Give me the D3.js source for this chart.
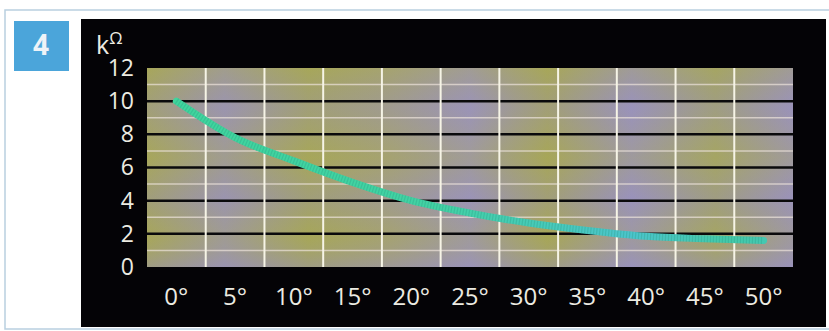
<!DOCTYPE html>
<html lang="en">
<head>
    <meta charset="UTF-8">
    <title>Resistance vs temperature</title>
    <script src="https://d3js.org/d3.v7.min.js"></script>
    <style>
        body {margin: 0; background: #fff;}
        text {
            font-family: "Open Sans", "DejaVu Sans", sans-serif;
            fill: #ecebe2;
        }
    </style>
</head>
<body>
<script>
    const width = 829;
    const height = 331;

    // chart data
    const angles = ["0°", "5°", "10°", "15°", "20°", "25°", "30°", "35°", "40°", "45°", "50°"];
    const resistance = [10, 7.8, 6.4, 5.1, 4.0, 3.25, 2.65, 2.2, 1.85, 1.7, 1.6];
    const yTicks = [0, 2, 4, 6, 8, 10, 12];
    const darkLines = [2, 4, 6, 8, 10];
    const faintLines = [1, 3, 5, 7, 9, 11];

    const plot = {left: 147, right: 793, top: 68, bottom: 267};

    const svg = d3.select("body").append("svg")
            .attr("width", width).attr("height", height);

    const defs = svg.append("defs");

    // mottled olive / lavender background
    const bg = defs.append("linearGradient").attr("id", "bgx")
            .attr("x1", 0).attr("x2", 1).attr("y1", 0).attr("y2", 0);
    [[0, "#a6a55a"], [0.12, "#9c96a6"], [0.25, "#a5a558"], [0.38, "#a39f7c"],
     [0.5, "#9c95b2"], [0.62, "#a6a556"], [0.75, "#9a93b8"], [0.88, "#a3a366"], [1, "#9b93b6"]]
        .forEach(s => bg.append("stop").attr("offset", s[0]).attr("stop-color", s[1]));

    const bgy = defs.append("linearGradient").attr("id", "bgy")
            .attr("x1", 0).attr("x2", 0).attr("y1", 0).attr("y2", 1);
    [[0, "#aaaa5c", 0.35], [0.2, "#9890c2", 0.3], [0.45, "#aaaa5c", 0.3],
     [0.65, "#9890c2", 0.3], [0.85, "#aaaa5c", 0.25], [1, "#9890c2", 0.4]]
        .forEach(s => bgy.append("stop").attr("offset", s[0])
            .attr("stop-color", s[1]).attr("stop-opacity", s[2]));

    const lineGrad = defs.append("linearGradient").attr("id", "curve")
            .attr("gradientUnits", "userSpaceOnUse")
            .attr("x1", plot.left).attr("x2", plot.right).attr("y1", 0).attr("y2", 0);
    [[0, "#3fd69c"], [0.45, "#42d2a4"], [0.75, "#4cc4cc"], [0.9, "#44caa8"], [1, "#46c6b8"]]
        .forEach(s => lineGrad.append("stop").attr("offset", s[0]).attr("stop-color", s[1]));

    // page frame
    svg.append("rect")
            .attr("x", 5).attr("y", 10).attr("width", 840).attr("height", 319)
            .style("fill", "none").style("stroke", "#b9cfe0").style("stroke-width", 1.5);

    // black panel
    svg.append("rect")
            .attr("x", 81).attr("y", 19).attr("width", 745).attr("height", 308)
            .style("fill", "#040306");

    // figure number badge
    svg.append("rect")
            .attr("x", 14).attr("y", 21).attr("width", 55).attr("height", 50)
            .style("fill", "#4ba5da");
    svg.append("text")
            .attr("x", 41).attr("y", 55)
            .attr("text-anchor", "middle")
            .style("font-size", "28px").style("font-weight", "bold")
            .style("fill", "#eef3f8")
            .text("4");

    const x = d3.scaleBand()
            .domain(angles)
            .range([plot.left, plot.right]);

    const y = d3.scaleLinear()
            .domain([0, 12])
            .range([plot.bottom, plot.top]);

    // plot background
    svg.append("rect")
            .attr("x", plot.left).attr("y", plot.top)
            .attr("width", plot.right - plot.left).attr("height", plot.bottom - plot.top)
            .style("fill", "url(#bgx)");
    svg.append("rect")
            .attr("x", plot.left).attr("y", plot.top)
            .attr("width", plot.right - plot.left).attr("height", plot.bottom - plot.top)
            .style("fill", "url(#bgy)");

    // faint light lines at odd values
    svg.selectAll("line.faint")
            .data(faintLines)
            .enter()
            .append("line")
            .attr("class", "faint")
            .attr("x1", plot.left).attr("x2", plot.right)
            .attr("y1", d => y(d)).attr("y2", d => y(d))
            .style("stroke", "#ece2dc")
            .style("stroke-opacity", 0.7)
            .style("stroke-width", 1.5);

    // black gridlines
    svg.selectAll("line.dark")
            .data(darkLines)
            .enter()
            .append("line")
            .attr("class", "dark")
            .attr("x1", plot.left).attr("x2", plot.right)
            .attr("y1", d => y(d)).attr("y2", d => y(d))
            .style("stroke", "#0a0a0c")
            .style("stroke-width", 2.5);

    // white vertical lines between columns
    svg.selectAll("line.vert")
            .data(angles.slice(1))
            .enter()
            .append("line")
            .attr("class", "vert")
            .attr("x1", d => x(d)).attr("x2", d => x(d))
            .attr("y1", plot.top).attr("y2", plot.bottom)
            .style("stroke", "#f6f4e6")
            .style("stroke-width", 2);

    // resistance curve
    const line = d3.line()
            .x((d, i) => x(angles[i]) + x.bandwidth() / 2)
            .y(d => y(d))
            .curve(d3.curveMonotoneX);

    svg.append("path")
            .datum(resistance)
            .attr("d", line)
            .style("fill", "none")
            .style("stroke", "url(#curve)")
            .style("stroke-width", 7)
            .style("stroke-linecap", "round");

    // halftone texture on the curve
    svg.append("path")
            .datum(resistance)
            .attr("d", line)
            .style("fill", "none")
            .style("stroke", "#2e9e86")
            .style("stroke-opacity", 0.35)
            .style("stroke-width", 7)
            .style("stroke-dasharray", "1.2 1.8");

    // axes
    const yAxis = svg.append("g")
            .attr("transform", "translate(134,0)")
            .call(d3.axisLeft(y).tickValues(yTicks).tickSize(0).tickPadding(0));
    yAxis.select(".domain").remove();
    yAxis.selectAll("text")
            .style("font-size", "23px")
            .style("fill", "#ecebe2");

    const xAxis = svg.append("g")
            .attr("transform", "translate(0,288)")
            .call(d3.axisBottom(x).tickSize(0).tickPadding(0));
    xAxis.select(".domain").remove();
    xAxis.selectAll("text")
            .style("font-size", "24px")
            .style("fill", "#ecebe2");

    // unit label
    const unit = svg.append("text")
            .attr("x", 96).attr("y", 54)
            .style("font-size", "25px");
    unit.append("tspan").text("k");
    unit.append("tspan").attr("dy", -10).style("font-size", "17px").text("Ω");

</script>
</body>
</html>
